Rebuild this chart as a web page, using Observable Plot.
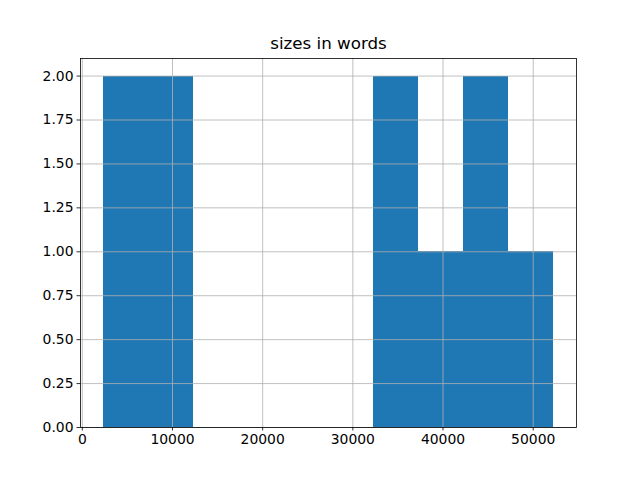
<!DOCTYPE html>
<html>
<head>
<meta charset="utf-8">
<script src="https://cdn.jsdelivr.net/npm/d3@7"></script>
<script src="https://cdn.jsdelivr.net/npm/@observablehq/plot@0.6"></script>
<style>
  html, body { margin: 0; padding: 0; background: #fff; }
</style>
</head>
<body>
<div id="chart"></div>
<script>
const title = "sizes in words";
const binStart = [2300, 7300, 12300, 17300, 22300, 27300, 32300, 37300, 42300, 47300];
const binEnd   = [7300, 12300, 17300, 22300, 27300, 32300, 37300, 42300, 47300, 52300];
const counts   = [2, 2, 0, 0, 0, 0, 2, 1, 2, 1];
const xTicks = [0, 10000, 20000, 30000, 40000, 50000];
const yTicks = [0, 0.25, 0.5, 0.75, 1.0, 1.25, 1.5, 1.75, 2.0];

const bins = binStart.map((s, i) => ({x1: s, x2: binEnd[i], count: counts[i]}));

const chart = Plot.plot({
  width: 640,
  height: 480,
  marginLeft: 80,
  marginRight: 64,
  marginTop: 58,
  marginBottom: 53,
  style: {fontFamily: "DejaVu Sans", fontSize: "13.9px", color: "black", background: "white"},
  x: {domain: [-200, 54800]},
  y: {domain: [0, 2.1]},
  marks: [
    Plot.rectY(bins, {x1: "x1", x2: "x2", y1: 0, y2: "count", fill: "#1f77b4", inset: 0, shapeRendering: "crispEdges"}),
    Plot.gridX(xTicks, {stroke: "#b0b0b0", strokeOpacity: 1, strokeWidth: 0.8}),
    Plot.gridY(yTicks, {stroke: "#b0b0b0", strokeOpacity: 1, strokeWidth: 0.8}),
    Plot.axisX({ticks: xTicks, tickSize: 3.5, tickPadding: 3.5, tickFormat: d => String(d), label: null, strokeWidth: 0.8}),
    Plot.axisY({ticks: yTicks, tickSize: 3.5, tickPadding: 3.5, tickFormat: d3.format(".2f"), label: null, strokeWidth: 0.8}),
    Plot.frame({stroke: "black", strokeWidth: 0.8}),
    Plot.text([title], {frameAnchor: "top", dy: -10, lineAnchor: "bottom", fontSize: 16.7, fill: "black"})
  ]
});
document.getElementById("chart").appendChild(chart);
</script>
</body>
</html>
